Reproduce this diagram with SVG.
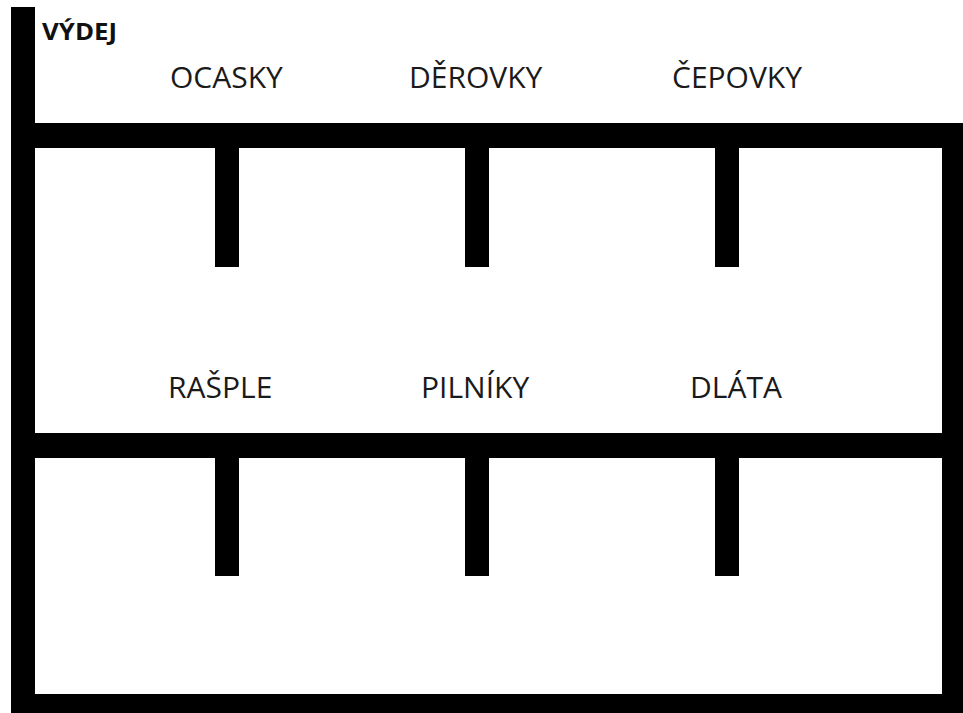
<svg xmlns="http://www.w3.org/2000/svg" width="963" height="713" viewBox="0 0 963 713">
<style>
.w{fill:#000}
.lbl{font-family:"Open Sans","Noto Sans","Liberation Sans",sans-serif;font-size:30px;fill:#1a1a1a}
.hd{font-family:"Open Sans","Noto Sans","Liberation Sans",sans-serif;font-size:24px;font-weight:bold;fill:#111}
</style>
<rect width="963" height="713" fill="#fff"/>
<g id="walls">
<rect class="w" x="11" y="7" width="24" height="706"/>
<rect class="w" x="11" y="123" width="952" height="25"/>
<rect class="w" x="11" y="433" width="952" height="25"/>
<rect class="w" x="942" y="123" width="21" height="590"/>
<rect class="w" x="11" y="694" width="952" height="19"/>
</g>
<g id="shelves">
<rect class="w" x="215" y="140" width="24" height="127"/>
<rect class="w" x="465" y="140" width="24" height="127"/>
<rect class="w" x="715" y="140" width="24" height="127"/>
<rect class="w" x="215" y="450" width="24" height="126"/>
<rect class="w" x="465" y="450" width="24" height="126"/>
<rect class="w" x="715" y="450" width="24" height="126"/>
</g>
<g id="labels">
<text class="hd" x="42" y="40" textLength="75" lengthAdjust="spacingAndGlyphs">VÝDEJ</text>
<text class="lbl" x="170" y="88">OCASKY</text>
<text class="lbl" x="409" y="88">DĚROVKY</text>
<text class="lbl" x="672" y="88">ČEPOVKY</text>
<text class="lbl" x="168" y="398">RAŠPLE</text>
<text class="lbl" x="421" y="398">PILNÍKY</text>
<text class="lbl" x="690" y="398">DLÁTA</text>
</g>
</svg>
